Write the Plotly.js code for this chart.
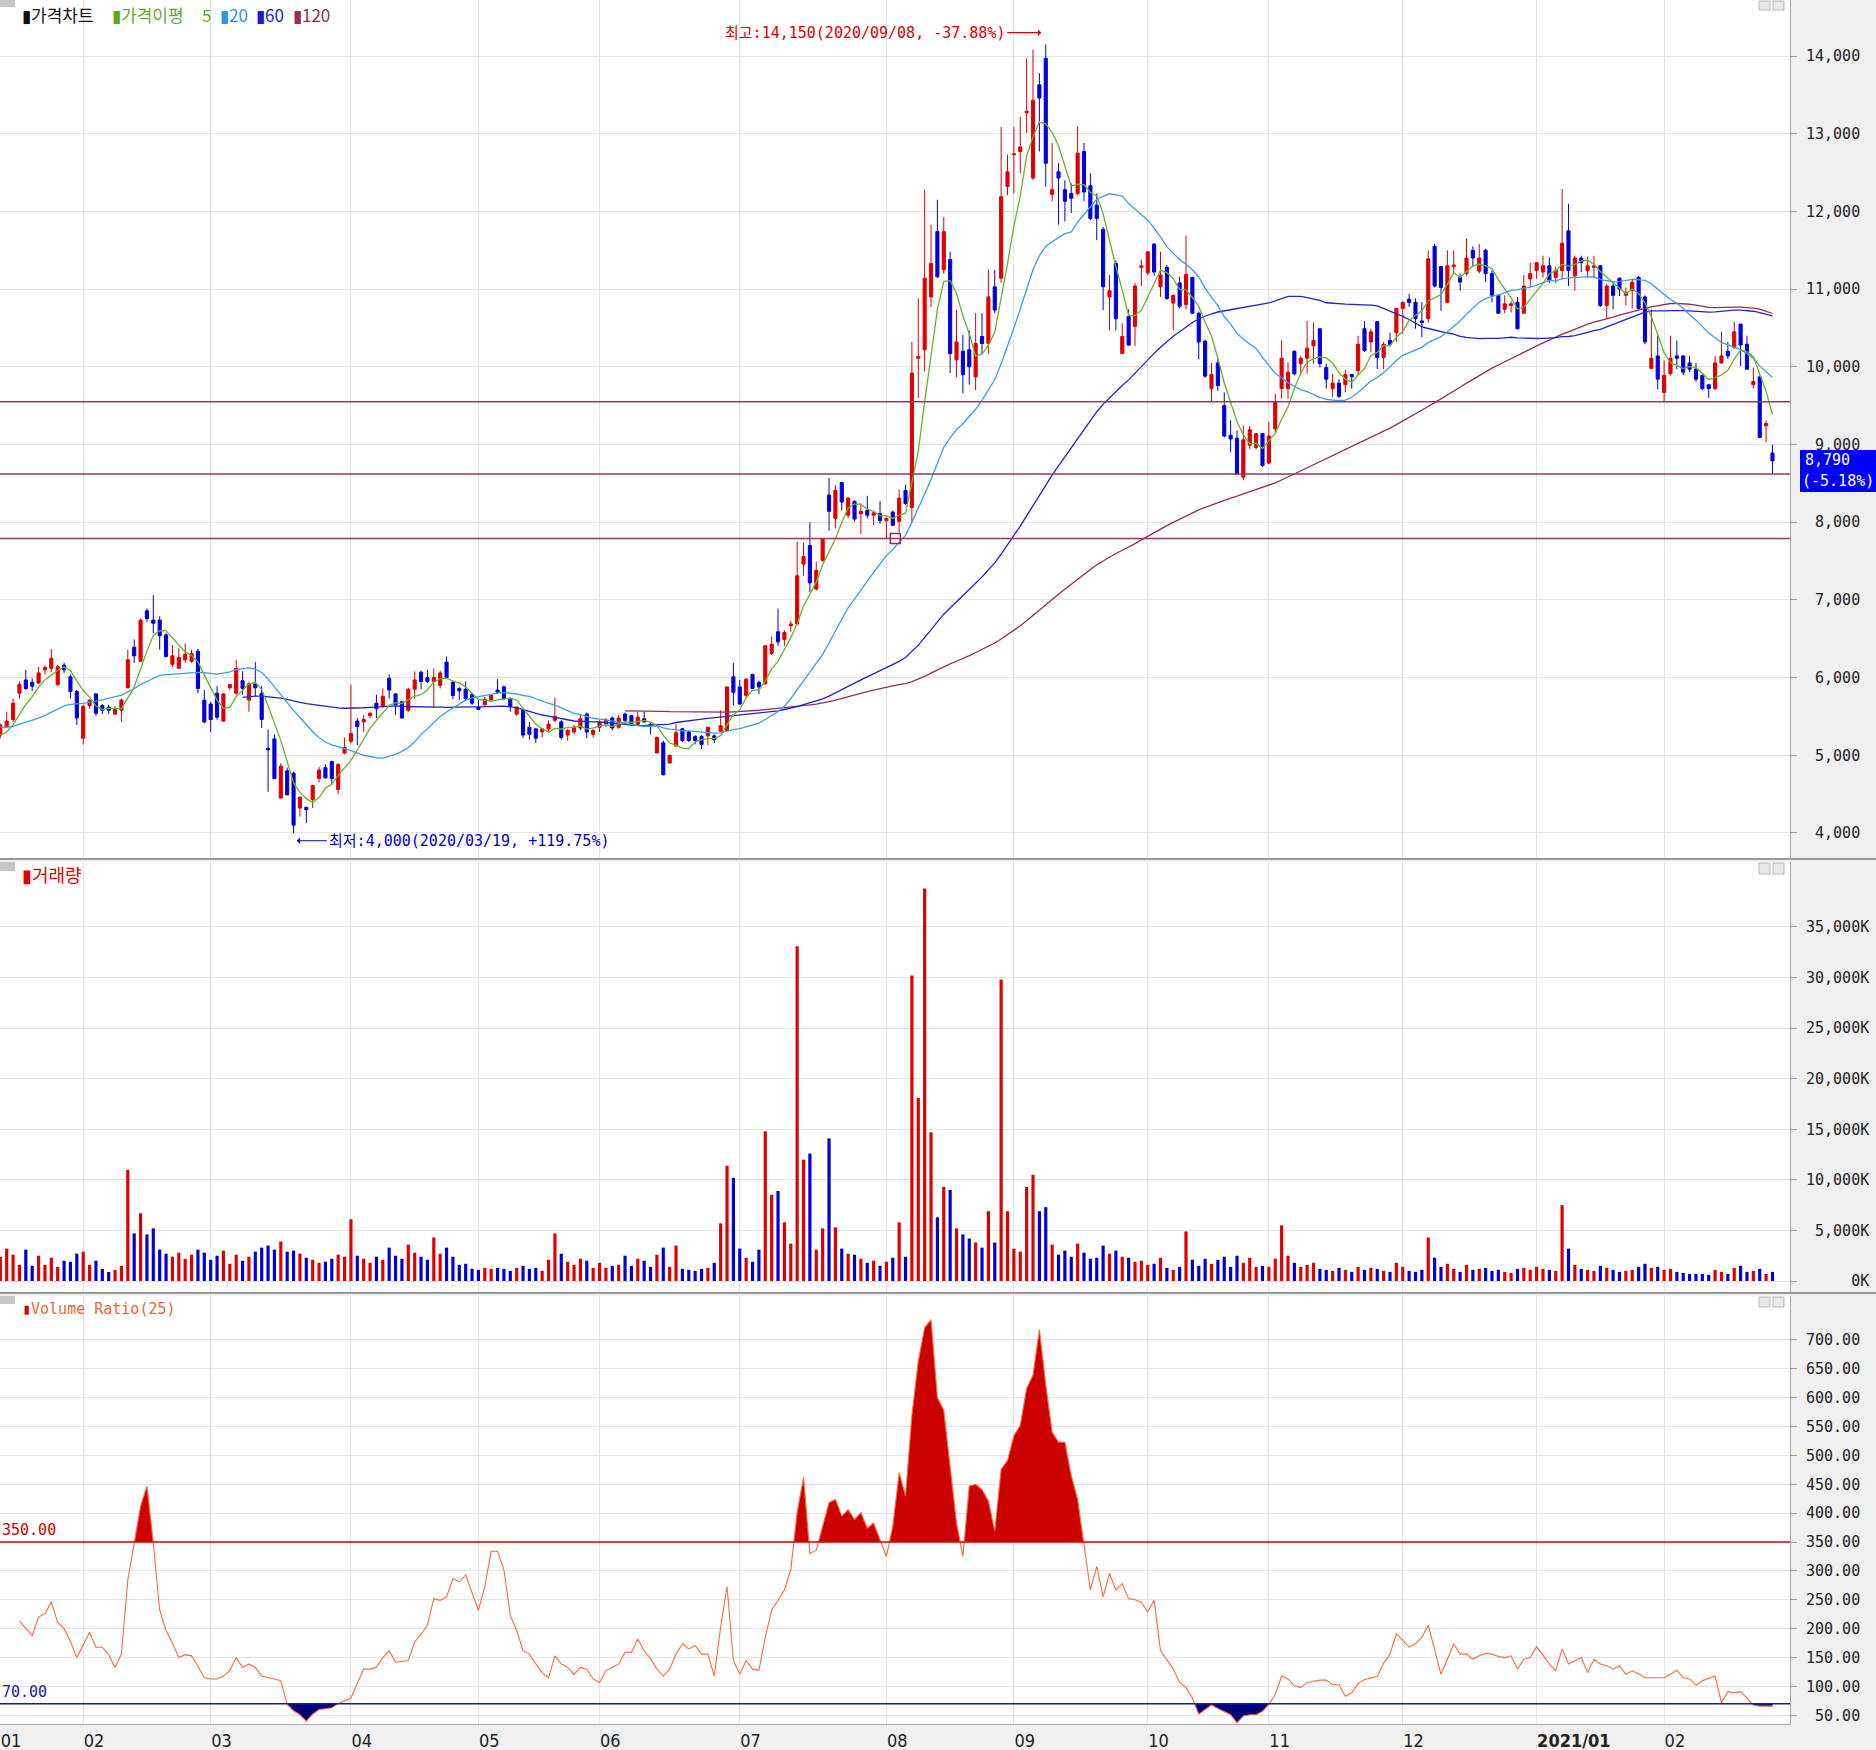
<!DOCTYPE html>
<html>
<head>
<meta charset="utf-8">
<script src="https://cdn.plot.ly/plotly-3.0.1.min.js"></script>
<style>
html,body{margin:0;padding:0;background:#F0F0F0;}
#chart{width:1876px;height:1750px;}
</style>
</head>
<body>
<div id="chart"></div>
<script>
// ---------------- DATA ----------------
const monthLabels = ['01','02','03','04','05','06','07','08','09','10','11','12','<b>2021/01</b>','02'];
const monthBarCounts = [13,20,22,20,19,22,23,20,21,19,21,21,20,18];

const openP = [
5260,5370,5460,5800,5970,5940,5930,6100,6120,5910,
6160,6010,5820,5220,5640,5790,5640,5620,5530,5580,
5870,6390,6210,6860,6740,6740,6550,6170,6120,6230,
6210,6340,5710,5660,5800,5440,5870,5800,5960,5710,
5920,5800,5090,5210,4450,4800,4770,4320,4330,4430,
4700,4840,4920,4560,5030,5180,5440,5430,5510,5670,
5630,5990,5790,5690,5580,5850,6070,6000,5950,5900,
6200,5940,5860,5850,5780,5620,5650,5710,5840,5880,
5730,5530,5580,5360,5340,5300,5340,5450,5430,5260,
5300,5350,5530,5270,5360,5400,5480,5360,5530,5510,
5400,5470,5400,5030,5160,4900,5120,5340,5300,5240,
5240,5250,5250,5310,5320,6010,5880,5770,6040,5940,
5920,6310,6590,6490,6670,6690,7460,7700,7140,7510,
8350,8050,8510,8090,8270,8110,8150,8090,8110,8020,
8130,8010,8410,8190,10110,10220,10900,11740,11250,11380,
10090,10200,10220,9870,10390,10300,11030,11140,12320,12730,
12770,13270,12430,13630,13970,12220,12510,12280,12230,12230,
12770,12330,12080,11770,10900,11330,10170,10650,10520,11280,
11210,11580,11030,11280,10820,11080,10800,11150,10690,10330,
9720,10050,9500,9120,9080,8580,8990,8960,9140,8760,
9200,9720,9720,10200,10040,10110,10270,10490,9990,9720,
9790,9770,9900,9950,10490,10320,10580,10120,10340,10440,
10750,10870,10830,10590,10620,11550,11290,10830,11290,11150,
11200,11500,11230,11500,11200,10920,10740,10790,10830,10690,
11130,11240,11220,11300,11150,11240,11750,11170,11400,11240,
11280,11300,10790,11040,11140,10920,10980,11150,10900,9980,
10140,9670,9910,10140,10140,10050,9970,9890,9770,9720,
10050,10200,10250,10550,10290,9770,9870,9240,8890];

const highP = [
5410,5560,5730,5950,6100,5990,6140,6160,6370,6160,
6190,6040,5840,5650,5720,5800,5660,5650,5630,5730,
6360,6490,6760,6890,7060,6790,6570,6420,6380,6440,
6360,6370,5840,5690,5890,5800,5920,6230,6080,5950,
6200,5890,5330,5270,4900,4840,4790,4470,4340,4620,
4850,4880,4930,4900,5230,5910,5480,5520,5560,5780,
5860,6040,5800,5700,5870,6080,6090,6100,6120,6090,
6270,5960,5880,5950,5800,5720,5750,5780,5980,5900,
5750,5630,5590,5430,5350,5350,5450,5740,5450,5340,
5390,5530,5550,5340,5450,5480,5500,5520,5550,5520,
5560,5560,5430,5240,5190,5010,5400,5350,5320,5260,
5260,5370,5270,5580,5880,6190,5970,5990,6050,5960,
6410,6530,6890,6610,6730,7750,7740,8000,7490,7790,
8570,8480,8510,8320,8280,8240,8340,8140,8270,8060,
8150,8420,8480,10320,10880,12280,11830,12150,11930,11480,
10730,10410,10470,10690,10690,11250,11250,13090,12730,13090,
13220,13970,14080,13780,14150,12880,12620,12400,12360,13090,
12880,12490,12230,11800,11180,11370,10560,10740,11080,11380,
11490,11590,11480,11310,10930,11160,11690,11160,10710,10350,
10050,10110,9670,9310,9180,9240,9240,9150,9150,9290,
9650,10340,10060,10210,10140,10590,10570,10500,10040,9910,
9840,9960,9910,10400,10590,10490,10590,10320,10440,10750,
10840,10940,10880,10830,11500,11580,11290,11500,11500,11200,
11650,11550,11580,11520,11240,10930,10920,10850,10900,11180,
11340,11350,11430,11400,11290,12290,12100,11430,11430,11420,
11430,11310,11070,11100,11150,11020,11130,11170,10920,10740,
10400,10080,10400,10340,10150,10140,10050,9910,9780,10140,
10450,10320,10580,10550,10400,9990,9890,9310,9000];

const lowP = [
5220,5350,5430,5730,5840,5830,5920,6040,6070,5890,
6060,5730,5390,5140,5600,5510,5530,5530,5520,5430,
5860,6190,6210,6720,6570,6360,6260,6140,6110,6190,
6190,5800,5410,5300,5460,5430,5840,5780,5780,5560,
5760,5350,4530,4700,4450,4490,4000,4210,4130,4320,
4650,4700,4620,4500,5010,5150,5130,5300,5480,5480,
5610,5730,5520,5470,5560,5730,5850,5930,5610,5860,
5990,5720,5710,5710,5650,5580,5630,5690,5800,5710,
5560,5510,5220,5200,5160,5230,5300,5430,5200,5190,
5270,5320,5220,5230,5300,5360,5320,5340,5420,5380,
5390,5420,5270,5030,4740,4900,5110,5170,5170,5140,
5080,5130,5160,5300,5310,5640,5650,5740,5850,5790,
5910,6290,6410,6410,6590,6680,7310,7100,7120,7490,
7890,7920,8150,8050,8010,7850,8050,7960,7980,7790,
7950,7870,8220,8000,9600,9940,10770,11140,11200,9920,
9870,9660,9770,9700,10170,10170,10690,11080,12210,12230,
12490,13010,12400,12770,12320,12130,11830,11870,11980,12210,
12130,11890,11630,10730,10470,10470,10170,10270,10270,11040,
11180,11170,10900,10860,10470,10750,10740,10680,10100,9860,
9560,9690,9090,8900,8610,8540,8940,8940,8710,8750,
9160,9590,9590,9890,9890,9910,10040,9990,9720,9610,
9600,9670,9720,9900,10190,10190,9970,9970,10260,10320,
10420,10770,10490,10380,10570,11020,10720,10820,11200,10980,
11170,11290,11200,11090,10830,10680,10690,10700,10480,10690,
11020,11130,11150,11080,11080,11130,11040,10980,11220,11140,
11140,10770,10620,10740,10910,10790,10750,10740,10290,9970,
9710,9560,9890,9970,9890,9930,9810,9700,9600,9700,
10040,10100,10230,10010,9960,9720,9090,9030,8630];

const closeP = [
5390,5440,5670,5910,5860,5890,6060,6130,6250,6140,
6100,5820,5480,5630,5710,5540,5580,5580,5590,5710,
6230,6280,6740,6760,6700,6540,6270,6280,6260,6300,
6310,5860,5430,5460,5490,5790,5910,6120,5860,5920,
5870,5460,5070,4700,4860,4490,4100,4460,4300,4610,
4810,4710,4700,4880,5100,5280,5370,5460,5540,5600,
5760,5840,5650,5480,5850,5970,5950,5950,6000,6060,
6000,5770,5830,5730,5670,5590,5720,5770,5810,5730,
5630,5620,5260,5270,5220,5340,5400,5500,5230,5320,
5360,5470,5300,5320,5430,5450,5350,5480,5450,5390,
5490,5430,5380,5230,4750,5000,5290,5190,5190,5190,
5140,5360,5200,5380,5880,5810,5660,5980,5860,5880,
6410,6430,6460,6580,6690,7310,7560,7220,7380,7790,
8140,8410,8260,8310,8040,8140,8090,8120,8020,8050,
7960,8310,8240,9920,10130,11140,11330,11160,11740,10170,
10320,9900,10000,10300,10300,10900,10730,12190,12510,12740,
12830,13290,13430,13460,12620,12280,12430,12130,12170,12750,
12250,11910,11910,11030,10980,10620,10390,10280,11040,11300,
11480,11220,11180,10880,10920,10780,11190,10690,10320,9880,
9900,9760,9110,9070,8620,9060,9190,9140,8730,9110,
9540,10110,9930,9910,10110,10240,10340,10040,9840,9790,
9620,9900,9870,10290,10210,10450,10120,10290,10290,10750,
10830,10830,10620,10570,11390,11040,11020,11300,11310,11090,
11400,11400,11400,11200,10920,10690,10810,10810,10490,11040,
11200,11340,11300,11110,11240,11590,11240,11400,11340,11300,
11300,10790,11040,10920,11000,10960,11090,10750,10320,10110,
9840,9890,10110,10110,9930,9970,9840,9720,9720,10050,
10140,10140,10450,10280,9970,9810,9090,9270,8790];

// closes before the first visible bar (needed for the moving averages)
const priorClose = [5400,5450,5480,5420,5380,5350,5400,5450,5420,5380,
5330,5360,5400,5420,5450,5380,5300,5250,5200,5230,5240];

// volume in thousands of shares
const volumeK = [
2400,3200,2600,1600,3100,1500,2500,1600,2300,1400,
2000,1900,2700,2900,1600,2000,1200,900,1100,1500,
11000,4700,6700,4600,5200,3100,2700,2400,2800,2200,
2600,3100,2800,2100,2500,3000,1700,2600,2000,2400,
2900,3300,3500,3100,3900,2900,3000,2700,2300,2100,
1800,1900,2200,2600,2400,6100,2500,2200,1800,2400,
2100,3300,2500,2200,3600,2800,2400,2100,4300,2700,
3300,2400,1600,1700,1200,1100,1300,1200,1300,1200,
1000,1300,1500,1200,1300,1000,2100,4700,2700,1900,
1600,2200,2000,1300,1800,1300,1500,1600,2500,1500,
2200,2000,1400,2600,3300,1400,3500,1200,1100,1000,
1200,1300,1800,5700,11400,10200,3200,2300,1900,3100,
14800,8500,8900,5800,3700,33100,12000,12600,3100,5200,
14100,5300,3200,2700,2600,2200,1800,2000,1500,1900,
2300,5800,2400,30200,18100,38800,14700,6300,9300,9000,
5200,4600,4200,3800,3300,6900,3800,29800,6900,3200,
2900,9300,10500,6900,7300,3600,2600,3000,2400,3700,
2800,2200,2300,3500,2700,3000,2400,2300,1900,2000,
1600,1700,2300,1300,1100,1400,4900,2100,1500,2200,
1700,2100,2400,1400,2500,1800,2300,1400,1500,1400,
2200,5500,2500,1800,1400,1600,1800,1200,1100,1000,
1300,1100,900,1400,1100,1300,1200,1000,900,1800,
1400,1000,900,1100,4300,2300,1400,1700,1200,900,
1600,1100,1200,1300,1000,1100,900,800,1200,1300,
1100,1400,1200,1100,1000,7500,3200,1600,1200,1100,
1000,1500,1300,1100,900,1000,1100,1400,1700,1300,
1400,1100,1200,900,800,700,700,700,600,1100,
900,700,1300,1500,900,1000,1200,700,900];

// Volume Ratio(25)
const vr25 = [
null,null,null,213,200,188,220,226,246,211,
200,178,150,172,194,168,168,155,133,156,
284,348,412,447,348,232,197,175,150,155,
153,135,115,113,113,118,127,150,133,139,
133,118,116,113,110,69,58,51,40,52,
60,61,63,70,75,80,105,130,130,133,
150,162,142,143,145,177,190,206,252,249,
255,287,281,293,261,232,273,334,334,302,
223,197,162,156,139,124,115,153,139,133,
121,133,130,113,107,127,133,139,159,159,
182,162,148,130,118,130,156,174,165,171,
156,156,118,203,273,145,121,145,130,128,
185,232,249,267,302,401,462,330,336,377,
418,424,395,406,389,401,374,383,354,325,
377,470,430,569,663,721,735,600,578,480,
383,325,447,450,441,421,369,476,491,534,
552,616,639,718,622,540,523,523,465,424,
342,267,308,255,296,267,278,252,250,246,
229,249,162,145,130,107,98,80,52,60,
68,62,57,51,37,49,51,51,57,69,
86,118,113,101,98,107,109,111,111,103,
103,83,89,105,112,114,117,140,156,191,
179,168,174,185,206,162,121,147,174,156,
156,147,153,157,156,152,150,153,130,147,
150,169,153,139,127,165,139,145,150,124,
147,139,136,130,136,121,127,122,115,115,
115,115,121,128,115,113,102,110,114,118,
72,91,89,91,80,68,66,66,66];

const levelLines = [9550, 8620, 7790];
const vrUpper = 350, vrLower = 70;
const highInfo = {idx: 164, price: 14150, text: '최고:14,150(2020/09/08, -37.88%)'};
const lowInfo = {idx: 46, price: 4000, text: '최저:4,000(2020/03/19, +119.75%)'};
const lastInfo = {price: 8790, text: '(-5.18%)'};
const squareMark = {idx: 140.4, price: 7790};
const legendItems = [
  {x: 20,  text: '▮가격차트', color: '#111111'},
  {x: 110, text: '▮가격이평', color: '#5AAA26'},
  {x: 200, text: '5', color: '#5AAA26'},
  {x: 218, text: '▮20', color: '#2E96E6'},
  {x: 254, text: '▮60', color: '#1C1CC8'},
  {x: 291, text: '▮120', color: '#8E2F5C'}
];

// ---------------- CHECKS ----------------
const N = closeP.length;
[['open',openP],['high',highP],['low',lowP],['vol',volumeK],['vr',vr25]].forEach(([n,a]) => {
  if (a.length !== N) throw new Error('length mismatch ' + n + ': ' + a.length + ' vs ' + N);
});
const monthStart = []; let acc = 0;
monthBarCounts.forEach(c => { monthStart.push(acc); acc += c; });
if (acc !== N) throw new Error('month counts ' + acc + ' vs ' + N);

const xs = closeP.map((_, i) => i);

// ---------------- DERIVED ----------------
const hist = priorClose.concat(closeP);
function ma(n) {
  return closeP.map((_, i) => {
    const end = priorClose.length + i;
    if (end + 1 < n) return null;
    let s = 0; for (let k = end - n + 1; k <= end; k++) s += hist[k];
    return s / n;
  });
}
function clipPoly(level, above) {
  const px = [], py = [];
  const idx = xs.filter(i => vr25[i] != null);
  for (let k = 0; k < idx.length; k++) {
    const i = idx[k], v = vr25[i];
    if (k > 0) {
      const pi = idx[k-1], pv = vr25[pi];
      if ((pv - level) * (v - level) < 0) { const t = (level - pv) / (v - pv); px.push(pi + t); py.push(level); }
    }
    px.push(i); py.push(above ? Math.max(v, level) : Math.min(v, level));
  }
  px.push(idx[idx.length-1], idx[0]); py.push(level, level);
  return {px, py};
}

const RED = '#E00000', BLUE = '#0000D8';
const volColors = xs.map(i => closeP[i] >= openP[i] ? RED : BLUE);
const up = clipPoly(vrUpper, true), dn = clipPoly(vrLower, false);

const traces = [
  {type:'candlestick', x:xs, open:openP, high:highP, low:lowP, close:closeP,
   increasing:{line:{color:RED, width:1}, fillcolor:RED},
   decreasing:{line:{color:BLUE, width:1}, fillcolor:BLUE},
   whiskerwidth:0, xaxis:'x', yaxis:'y', hoverinfo:'skip'},
  {type:'scatter', mode:'lines', x:xs, y:ma(120), line:{color:'#8E2F5C', width:1.3}, xaxis:'x', yaxis:'y'},
  {type:'scatter', mode:'lines', x:xs, y:ma(60), line:{color:'#2222CC', width:1.3}, xaxis:'x', yaxis:'y'},
  {type:'scatter', mode:'lines', x:xs, y:ma(20), line:{color:'#3A9FEA', width:1.3}, xaxis:'x', yaxis:'y'},
  {type:'scatter', mode:'lines', x:xs, y:ma(5), line:{color:'#68B22C', width:1.3}, xaxis:'x', yaxis:'y'},
  {type:'scatter', mode:'markers', x:[squareMark.idx], y:[squareMark.price],
   marker:{symbol:'square-open', size:10, color:'#8E2F5C', line:{width:1.5}}, xaxis:'x', yaxis:'y'},
  {type:'bar', x:xs, y:volumeK, marker:{color:volColors, line:{width:0}}, width:0.5, xaxis:'x', yaxis:'y2'},
  {type:'scatter', mode:'none', x:up.px, y:up.py, fill:'toself', fillcolor:'#CC0000', xaxis:'x', yaxis:'y3'},
  {type:'scatter', mode:'none', x:dn.px, y:dn.py, fill:'toself', fillcolor:'#00007A', xaxis:'x', yaxis:'y3'},
  {type:'scatter', mode:'lines', x:xs, y:vr25, line:{color:'#FF6A3D', width:1.1}, xaxis:'x', yaxis:'y3'}
];

// ---------------- LAYOUT ----------------
const PH = 1724, PW = 1790;
const py = v => 1 - v / PH;
const NB = '\u00A0';
const pad = (s, n) => NB.repeat(Math.max(0, n - s.length)) + s;
const fmt = v => v.toLocaleString('en-US');

const priceTicks = [4000,5000,6000,7000,8000,9000,10000,11000,12000,13000,14000];
const volTicks = [0,5000,10000,15000,20000,25000,30000,35000];
const vrTicks = []; for (let v = 50; v <= 700; v += 50) vrTicks.push(v);

const monoFont = {family:'DejaVu Sans Mono, monospace', size:15, color:'#222'};
const grid = '#E4E4E4', axLine = '#A8A8A8';
const yCommon = {side:'right', anchor:'x', showgrid:true, gridcolor:grid, gridwidth:1, zeroline:false,
  ticks:'outside', ticklen:6, tickcolor:'#999', showline:true, linecolor:axLine, linewidth:1,
  tickfont:monoFont, ticklabelstandoff:6, fixedrange:true};

const shapes = [];
levelLines.forEach(p => shapes.push({type:'line', xref:'x domain', x0:0, x1:1, yref:'y', y0:p, y1:p,
  line:{color:'#9A3565', width:1.6}}));
shapes.push({type:'line', xref:'x domain', x0:0, x1:1, yref:'y3', y0:vrUpper, y1:vrUpper, line:{color:'#E00000', width:1.6}});
shapes.push({type:'line', xref:'x domain', x0:0, x1:1, yref:'y3', y0:vrLower, y1:vrLower, line:{color:'#1A1AA8', width:1.6}});
// panel dividers
[859, 1293].forEach(yp => shapes.push({type:'line', xref:'paper', x0:0, x1:1876/PW, yref:'paper', y0:py(yp), y1:py(yp),
  line:{color:'#9A9A9A', width:2}}));
// small panel icons
[[0,7],[862,871],[1296,1304]].forEach(([a,b]) => {
  shapes.push({type:'rect', xref:'paper', yref:'paper', x0:0, x1:15/PW, y0:py(b), y1:py(a), fillcolor:'#C6C6C6', line:{width:0}});
  shapes.push({type:'rect', xref:'paper', yref:'paper', x0:1759/PW, x1:1770/PW, y0:py(b+3), y1:py(a+1), fillcolor:'#E8E8E8', line:{color:'#B8B8B8', width:1}});
  shapes.push({type:'rect', xref:'paper', yref:'paper', x0:1773/PW, x1:1784/PW, y0:py(b+3), y1:py(a+1), fillcolor:'#E8E8E8', line:{color:'#B8B8B8', width:1}});
});
// last price box
shapes.push({type:'rect', xref:'paper', x0:1800/PW, x1:1876/PW, yref:'paper', y0:py(492), y1:py(450),
  fillcolor:'#0000FF', line:{width:0}, layer:'above'});

const annFont = {family:'DejaVu Sans Mono, Noto Sans CJK KR, monospace', size:15};
const annotations = [];
legendItems.forEach(it => annotations.push({xref:'paper', yref:'paper', x:it.x/PW, y:py(0), xanchor:'left', yanchor:'top',
  showarrow:false, font:{family:'Noto Sans CJK KR, sans-serif', size:17, color:it.color}, text:it.text}));
annotations.push(
  {xref:'paper', yref:'paper', x:20/PW, y:py(874), xanchor:'left', yanchor:'middle', showarrow:false,
   font:{family:'Noto Sans CJK KR, sans-serif', size:18, color:'#E00000'}, text:'▮거래량'},
  {xref:'paper', yref:'paper', x:20/PW, y:py(1309), xanchor:'left', yanchor:'middle', showarrow:false,
   font:{family:'DejaVu Sans Mono, monospace', size:15, color:'#F0642F'}, text:'<span style="color:#E00000">▮</span>Volume Ratio(25)'},
  {xref:'paper', x:0, xanchor:'left', yref:'y3', y:vrUpper, yanchor:'bottom', yshift:1, showarrow:false,
   font:{family:'DejaVu Sans Mono, monospace', size:15, color:'#D00000'}, text:vrUpper.toFixed(2)},
  {xref:'paper', x:0, xanchor:'left', yref:'y3', y:vrLower, yanchor:'bottom', yshift:1, showarrow:false,
   font:{family:'DejaVu Sans Mono, monospace', size:15, color:'#1A1AA8'}, text:vrLower.toFixed(2)},
  {xref:'x', yref:'y', x:highInfo.idx - 0.7, y:highInfo.price + 150, ax:-34, ay:0, axref:'pixel', ayref:'pixel',
   xanchor:'right', yanchor:'middle', showarrow:true, arrowhead:1, arrowsize:0.9, arrowwidth:1.2, arrowcolor:'#E00000',
   standoff:0, startstandoff:0, font:Object.assign({color:'#E00000'}, annFont), text:highInfo.text},
  {xref:'x', yref:'y', x:lowInfo.idx + 0.5, y:lowInfo.price - 100, ax:30, ay:0, axref:'pixel', ayref:'pixel',
   xanchor:'left', yanchor:'middle', showarrow:true, arrowhead:1, arrowsize:0.9, arrowwidth:1.2, arrowcolor:'#0000CC',
   standoff:0, startstandoff:0, font:Object.assign({color:'#0000CC'}, annFont), text:lowInfo.text},
  {xref:'paper', x:1803/PW, xanchor:'left', yref:'paper', y:py(460), yanchor:'middle', showarrow:false,
   font:{family:'DejaVu Sans Mono, monospace', size:15, color:'#FFFFFF'}, text:fmt(lastInfo.price)},
  {xref:'paper', x:1800/PW, xanchor:'left', yref:'paper', y:py(481), yanchor:'middle', showarrow:false,
   font:{family:'DejaVu Sans Mono, monospace', size:15, color:'#FFFFFF'}, text:lastInfo.text}
);

const layout = {
  width:1876, height:1750,
  margin:{l:0, r:86, t:0, b:26, pad:0},
  paper_bgcolor:'#F0F0F0', plot_bgcolor:'#FFFFFF',
  showlegend:false, hovermode:false,
  xaxis:{domain:[0,1], anchor:'y3', range:[-0.05, 280.75], tickmode:'array', tickvals:monthStart, ticktext:monthLabels,
    showgrid:true, gridcolor:grid, gridwidth:1, zeroline:false, ticks:'', showline:true, linecolor:axLine,
    tickfont:{family:'Liberation Sans Narrow, DejaVu Sans Condensed, Liberation Sans, sans-serif', size:18, color:'#222'},
    ticklabelposition:'outside right', rangeslider:{visible:false}, fixedrange:true},
  yaxis:Object.assign({}, yCommon, {domain:[py(858), 1], range:[3678, 14721], tickmode:'array',
    tickvals:priceTicks, ticktext:priceTicks.map(v => pad(fmt(v), 6))}),
  yaxis2:Object.assign({}, yCommon, {domain:[py(1292), py(862)], range:[-1088, 41426], tickmode:'array',
    tickvals:volTicks, ticktext:volTicks.map(v => pad(fmt(v) + 'K', 7))}),
  yaxis3:Object.assign({}, yCommon, {domain:[0, py(1296)], range:[35, 776], tickmode:'array',
    tickvals:vrTicks, ticktext:vrTicks.map(v => pad(v.toFixed(2), 6))}),
  shapes:shapes, annotations:annotations
};

Plotly.newPlot('chart', traces, layout, {displayModeBar:false, staticPlot:true});
</script>
</body>
</html>
